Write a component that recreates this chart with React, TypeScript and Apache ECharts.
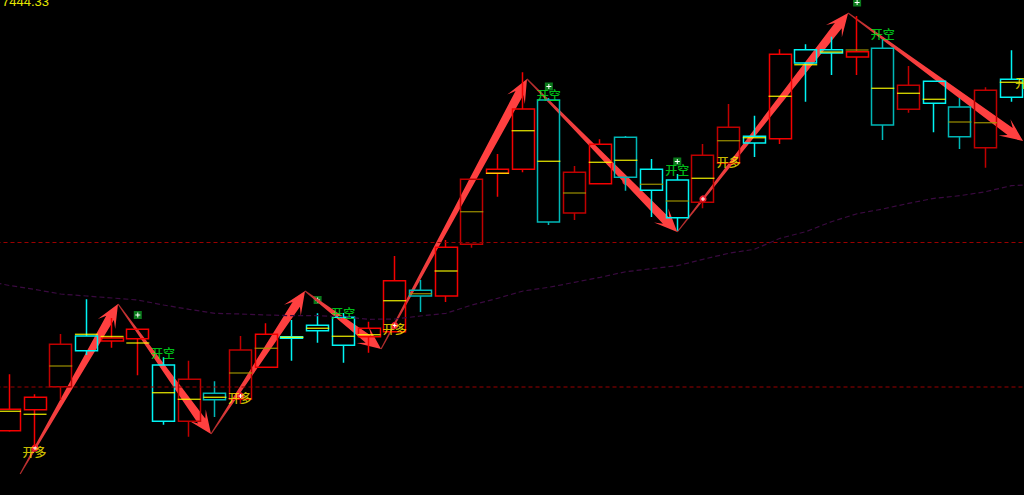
import React, { useEffect, useRef } from "react";
import * as echarts from "echarts";

const CN_FONT = '"Noto Sans CJK SC", "Noto Sans", sans-serif';

// Candle values
const sides = ["r","r","r","c","r","r","c","r","c","r","r","c","c","c","r","r","c","r","r","r","r","c","r","r","c","c","c","r","r","c","r","c","c","r","c","r","c","c","r","c"];
const bodyTop = [7085.7,7097.7,7150.7,7159,7157,7165.7,7130,7115.7,7101.7,7145,7160.7,7158.3,7169.7,7177.7,7166.7,7214.3,7204.7,7247.7,7315.7,7325.7,7386,7395,7322.7,7350.7,7357.7,7325.7,7315,7339.7,7367.7,7358.7,7440.7,7445.3,7445.3,7443.3,7446.7,7409.7,7413.7,7388,7404.7,7415.7];
const bodyBottom = [7064.3,7085.3,7108.3,7144.3,7154,7156.3,7073.7,7073.7,7095.3,7095.7,7127.7,7156.7,7164.3,7149.7,7158.3,7163.3,7199,7199,7250.7,7321.7,7325.7,7273,7282,7311.3,7317.7,7304.7,7277.3,7292.7,7331.7,7352,7356.3,7432,7442,7438,7370,7385.7,7391.7,7358.3,7347.3,7397.7];
const highs = [7120.7,7100.7,7161,7195.7,7177,7166,7137.7,7134.3,7113.7,7159,7171.7,7175,7181.7,7182,7173.3,7239,7215,7255,7315.7,7341,7422.7,7397,7329,7355.7,7359,7336,7321,7351,7391,7379.3,7445.7,7450.7,7458.3,7479,7455.7,7429,7413.7,7397,7407.7,7444.7];
const lows = [7063.3,7048.3,7095,7140,7147.3,7119.7,7070.3,7058.3,7078,7091,7127.7,7134.3,7152.3,7132.3,7142.3,7163.3,7183,7193,7247.3,7298.3,7322.7,7270,7275,7311.3,7304.3,7278,7264.3,7286.7,7331.7,7338,7351,7393.3,7420,7420,7355,7382.3,7362.7,7346,7327.3,7393.3];
const mids = [7083.7,7080.7,7129,7160.7,7158.5,7152,7102.3,7095.7,7097.7,7122,7146.7,7157.7,7166.7,7158.7,7160.3,7194.3,7201.3,7224,7283.3,7321.7,7364.3,7333.7,7302,7332.7,7334.7,7310.7,7294,7316.7,7354.3,7357.3,7398.7,7430.3,7443,7445,7406.7,7401.7,7395.7,7373,7372.3,7412.7];
const dimBodies = [2, 7, 9, 8, 16, 18, 21, 22, 24, 27, 28, 34, 37, 38, 35];
const dimMids = [2, 9, 10, 16, 18, 22, 25, 26, 28, 33, 37, 38];

// Moving average
const maX = [-0.5,0,1,2,3,4,5,6,7,8,9,10,11,12,13,14,15,16,17,18,19,20,21,22,23,24,25,26,27,28,29,30,31,32,33,34,35,36,37,38,39,39.5];
const maY = [7212,7209.5,7205.5,7201,7199,7197,7195,7190,7185.7,7181.7,7181,7180,7179.3,7179.3,7178.3,7175.7,7176,7179,7181.7,7190,7196.7,7204,7207.7,7212.7,7217.7,7223.3,7226.3,7229.3,7235.7,7241.7,7245.7,7256.7,7263.3,7273.3,7281.3,7286,7291.7,7296.7,7299.3,7303.3,7309.3,7310];

// Horizontal levels
const levels = [7252.5, 7108];

// Swing pivots joined by the arrows
const pivotX = [0.42,4.23,7.85,11.51,14.47,20.15,26.0,32.65,39.46];
const pivotY = [7021,7191,7061,7204,7146,7416,7263,7482,7354];

// Signals
const longLabel = "开多";
const shortLabel = "开空";
const longX = [0.98,8.98,15,28];
const longY = [7044,7098,7167,7334];
const longEdgeX = [39.62];
const longEdgeY = [7413];
const shortX = [5.98,13,21,26,34];
const shortY = [7143,7183,7401,7326,7462];
const badgeX = [5,12,21,26,33];
const badgeY = [7180,7195,7408.5,7333.5,7492.5];
const dotX = [1,9,15,27];
const dotY = [7047,7099,7169.5,7296];
const buriedDotX = [24];
const buriedDotY = [7313.5];

const topLabel = "7444.33";

const categories = sides.map((_, i) => String(i));
const RED = "#f40000", RED_DIM = "#c00000", CYAN = "#00f4f4", CYAN_DIM = "#00b8b8";
const YEL = "#ffff00", YEL_DIM = "#a89a00";

function arrowShape(a: number[], b: number[]) {
  const dx = b[0] - a[0], dy = b[1] - a[1];
  const len = Math.hypot(dx, dy);
  const ux = dx / len, uy = dy / len, nx = -uy, ny = ux;
  const at = (along: number, off: number) => [b[0] - ux * along + nx * off, b[1] - uy * along + ny * off];
  const s = 0.6;
  return [
    [a[0] + nx * s, a[1] + ny * s],
    at(16, 4.4),
    at(23, 10),
    at(0, 0),
    at(23, -10),
    at(16, -4.4),
    [a[0] - nx * s, a[1] - ny * s],
  ];
}

const plus = (c: number[], arm: number) => [
  { type: "rect", shape: { x: c[0] - arm, y: c[1] - 0.5, width: arm * 2, height: 1 }, style: { fill: "#ffffff" } },
  { type: "rect", shape: { x: c[0] - 0.5, y: c[1] - arm, width: 1, height: arm * 2 }, style: { fill: "#ffffff" } },
];

export default function App() {
  const ref = useRef<HTMLDivElement>(null);
  useEffect(() => {
    document.body.style.margin = "0";
    document.body.style.background = "#000";
    const chart = echarts.init(ref.current!, undefined, { renderer: "svg" });
    const toItem = (i: number) => {
      const up = sides[i] === "r";
      const dim = dimBodies.includes(i);
      const col = up ? (dim ? RED_DIM : RED) : dim ? CYAN_DIM : CYAN;
      return {
        value: up ? [bodyBottom[i], bodyTop[i], lows[i], highs[i]] : [bodyTop[i], bodyBottom[i], lows[i], highs[i]],
        itemStyle: { color: "transparent", color0: "transparent", borderColor: col, borderColor0: col, borderWidth: 1.5 },
      };
    };
    const labels = (xs: number[], ys: number[], text: string, color: string) => ({
      type: "scatter", xAxisIndex: 1, yAxisIndex: 0, clip: false, symbolSize: 1,
      itemStyle: { color: "transparent" },
      label: { show: true, position: "inside", formatter: text, color, fontSize: 12, fontFamily: CN_FONT, fontWeight: 500 },
      data: xs.map((x, i) => [x, ys[i]]),
    });
    const dotSeries = (xs: number[], ys: number[]) => ({
      type: "custom", xAxisIndex: 1, yAxisIndex: 0, clip: false,
      data: xs.map((x, i) => [x, ys[i]]),
      renderItem: (_: any, api: any) => {
        const c = api.coord([api.value(0), api.value(1)]);
        return {
          type: "group",
          children: [
            { type: "circle", shape: { cx: c[0], cy: c[1], r: 3.6 }, style: { fill: "#f02030" } },
            ...plus(c, 2),
          ],
        };
      },
    });
    chart.setOption({
      animation: false,
      backgroundColor: "#000000",
      grid: { left: -3.5, top: 0, width: 1027.6, height: 495, containLabel: false, outerBoundsMode: "none" },
      xAxis: [
        { type: "category", data: categories, show: false },
        { type: "value", min: -0.5, max: 39.5, show: false },
      ],
      yAxis: [{ type: "value", min: 7000, max: 7495, show: false }],
      series: [
        ...levels.map((lv) => ({
          type: "line", xAxisIndex: 1, yAxisIndex: 0, symbol: "none",
          lineStyle: { color: "#9a0000", width: 1, type: [4, 3] },
          data: [[-0.5, lv], [39.5, lv]],
        })),
        {
          type: "line", xAxisIndex: 1, yAxisIndex: 0, symbol: "none",
          lineStyle: { color: "#3a0a40", width: 1.2, type: [5, 3] },
          data: maX.map((x, i) => [x, maY[i]]),
        },
        {
          type: "candlestick", xAxisIndex: 0, yAxisIndex: 0, barWidth: 22.5,
          data: sides.map((_, i) => toItem(i)),
        },
        {
          type: "scatter", xAxisIndex: 0, yAxisIndex: 0, symbol: "rect", symbolSize: [23, 1.4],
          data: mids.map((m, i) => ({
            value: [i, m],
            itemStyle: { color: dimMids.includes(i) ? YEL_DIM : YEL },
          })),
        },
        labels(longX, longY, longLabel, "#ffee00"),
        labels(longEdgeX, longEdgeY, longLabel, "#ffee00"),
        labels(shortX, shortY, shortLabel, "#00f020"),
        {
          type: "custom", xAxisIndex: 1, yAxisIndex: 0, clip: false,
          data: badgeX.map((x, i) => [x, badgeY[i]]),
          renderItem: (_: any, api: any) => {
            const c = api.coord([api.value(0), api.value(1)]);
            return {
              type: "group",
              children: [
                { type: "rect", shape: { x: c[0] - 4, y: c[1] - 4, width: 8, height: 8 }, style: { fill: "#0b7a1c" } },
                ...plus(c, 2.5),
              ],
            };
          },
        },
        dotSeries(buriedDotX, buriedDotY),
        {
          type: "custom", xAxisIndex: 1, yAxisIndex: 0, clip: false,
          data: pivotX.slice(0, -1).map((x, i) => [x, pivotY[i], pivotX[i + 1], pivotY[i + 1]]),
          renderItem: (_: any, api: any) => {
            const a = api.coord([api.value(0), api.value(1)]);
            const b = api.coord([api.value(2), api.value(3)]);
            return {
              type: "polygon",
              shape: { points: arrowShape(a, b) },
              style: {
                fill: new echarts.graphic.LinearGradient(a[0], a[1], b[0], b[1], [
                  { offset: 0, color: "#a82a2a" },
                  { offset: 0.2, color: "#e83c3c" },
                  { offset: 0.5, color: "#ff4040" },
                  { offset: 1, color: "#ff4040" },
                ], true),
              },
            };
          },
        },
        dotSeries(dotX, dotY),
      ],
      graphic: [
        {
          type: "text", x: 2, y: -5, silent: true,
          style: { text: topLabel, fill: "#e6e600", fontSize: 13, fontFamily: '"Liberation Sans", sans-serif' },
        },
      ],
    });
    return () => chart.dispose();
  }, []);
  return <div ref={ref} style={{ width: 1024, height: 495, background: "#000" }} />;
}
